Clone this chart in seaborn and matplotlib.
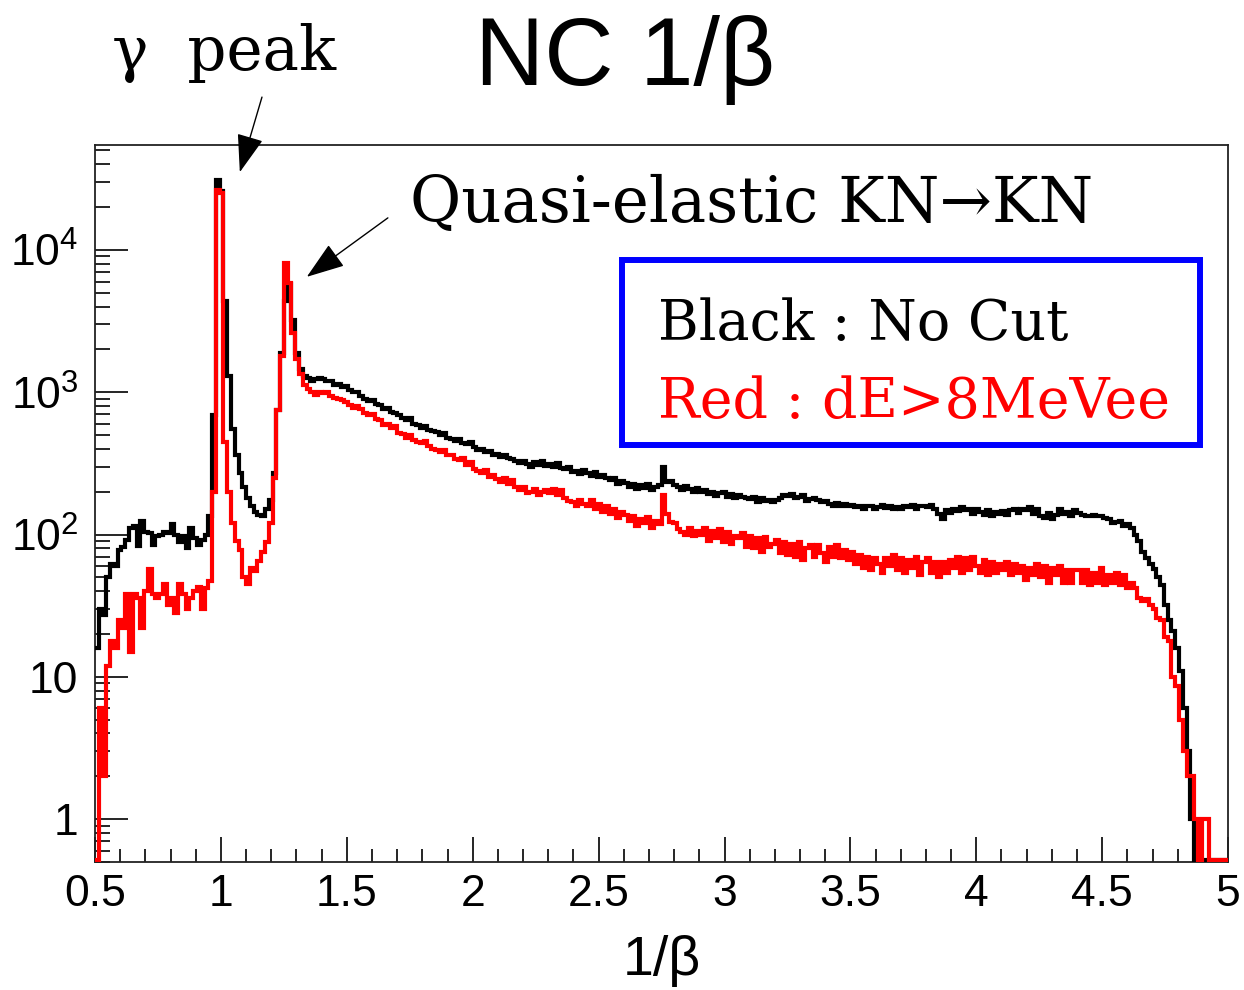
import numpy as np
import pandas as pd
import matplotlib
matplotlib.use("Agg")
import matplotlib.pyplot as plt
import seaborn as sns
from matplotlib.ticker import (FixedLocator, FixedFormatter, MultipleLocator,
                               LogLocator, NullFormatter)
from matplotlib.patches import Rectangle

# ---- histogram binning: 300 bins of width 0.015 over 1/beta in [0.5, 5] ----
bin_lo, bin_hi, n_bins = 0.5, 5.0, 300

# counts per bin, no cut (black)
no_cut = [
    16, 30, 27, 50, 62, 60, 78, 82, 92, 112,
    115, 83, 125, 105, 102, 85, 98, 100, 104, 103,
    118, 100, 88, 97, 80, 112, 95, 85, 92, 100,
    135, 690, 31000, 26000, 4400, 1300, 550, 360, 270, 215,
    180, 158, 145, 137, 134, 150, 175, 270, 750, 1900,
    4400, 5800, 3200, 1900, 1450, 1300, 1250, 1200, 1230, 1250,
    1240, 1205, 1190, 1120, 1150, 1080, 1100, 1030, 1010, 1000,
    940, 900, 870, 880, 830, 810, 760, 770, 730, 720,
    690, 655, 640, 660, 600, 585, 560, 575, 540, 530,
    525, 500, 515, 480, 470, 455, 470, 440, 430, 445,
    410, 395, 400, 380, 385, 365, 370, 350, 360, 345,
    340, 330, 318, 330, 312, 300, 325, 310, 330, 305,
    315, 300, 318, 295, 290, 300, 275, 280, 265, 282,
    270, 258, 275, 255, 262, 248, 240, 250, 228, 238,
    230, 215, 225, 208, 222, 212, 228, 205, 215, 222,
    300, 235, 238, 222, 215, 205, 218, 210, 200, 212,
    198, 205, 192, 200, 188, 195, 200, 185, 192, 182,
    190, 185, 180, 178, 185, 170, 180, 172, 176, 168,
    175, 182, 190, 186, 194, 180, 184, 190, 172, 178,
    182, 175, 170, 172, 165, 160, 166, 158, 164, 160,
    162, 155, 160, 152, 158, 160, 150, 156, 162, 154,
    158, 150, 156, 152, 160, 155, 162, 150, 158, 160,
    155, 162, 150, 140, 128, 148, 142, 152, 146, 155,
    148, 152, 140, 150, 145, 138, 148, 135, 145, 140,
    146, 138, 148, 150, 142, 152, 148, 155, 140, 150,
    135, 130, 142, 128, 138, 150, 140, 145, 135, 148,
    142, 138, 136, 135, 137, 134, 136, 130, 128, 120,
    122, 125, 115, 118, 112, 100, 90, 76, 68, 62,
    57, 50, 44, 32, 25, 21, 16, 11, 6, 3,
    1, 0, 0, 0, 0, 0, 0, 0, 0, 0,
]

# counts per bin, dE > 8 MeVee (red)
de_cut = [
    0, 6, 2, 12, 18, 16, 25, 22, 38, 15,
    38, 36, 22, 40, 57, 38, 36, 38, 45, 32,
    36, 28, 45, 38, 30, 36, 40, 43, 30, 42,
    47, 200, 26500, 25000, 450, 200, 120, 90, 78, 50,
    45, 58, 55, 65, 75, 88, 120, 250, 750, 1800,
    8100, 5900, 2600, 1700, 1350, 1120, 1050, 1000, 960, 1010,
    990, 1000, 940, 910, 900, 880, 850, 820, 780, 800,
    760, 720, 690, 700, 650, 640, 590, 600, 560, 575,
    520, 505, 480, 500, 465, 450, 440, 455, 420, 400,
    395, 380, 390, 360, 365, 340, 335, 345, 310, 325,
    290, 280, 270, 285, 255, 262, 245, 235, 250, 225,
    240, 215, 205, 215, 195, 200, 210, 190, 200, 205,
    195, 210, 190, 205, 180, 172, 170, 160, 175, 165,
    160, 175, 150, 165, 145, 160, 140, 150, 130, 145,
    138, 125, 135, 115, 128, 120, 132, 112, 125, 118,
    190, 140, 122, 120, 110, 105, 100, 112, 98, 106,
    100, 112, 90, 106, 94, 110, 88, 104, 86, 98,
    94, 102, 82, 98, 80, 94, 76, 96, 82, 86,
    92, 74, 88, 72, 86, 70, 88, 66, 80, 84,
    70, 84, 74, 64, 82, 70, 84, 68, 78, 66,
    76, 62, 72, 58, 70, 56, 68, 62, 54, 68,
    60, 72, 56, 68, 54, 66, 58, 70, 52, 64,
    68, 54, 64, 50, 64, 54, 66, 58, 70, 54,
    68, 56, 70, 60, 54, 66, 52, 64, 54, 62,
    56, 64, 52, 62, 54, 60, 48, 58, 52, 62,
    50, 60, 46, 58, 52, 60, 46, 56, 46, 56,
    56, 46, 56, 44, 54, 46, 58, 44, 52, 46,
    54, 44, 52, 42, 46, 42, 36, 34, 35, 32,
    30, 26, 25, 19, 18, 10, 8.6, 5, 3, 2,
    2, 1, 0, 1, 1, 0, 0, 0, 0, 0,
]

x_tick_values = [0.5, 1.0, 1.5, 2.0, 2.5, 3.0, 3.5, 4.0, 4.5, 5.0]
x_tick_labels = ["0.5", "1", "1.5", "2", "2.5", "3", "3.5", "4", "4.5", "5"]
y_tick_values = [1, 10, 100, 1000, 10000]
y_tick_labels = ["1", "10", r"$10^{2}$", r"$10^{3}$", r"$10^{4}$"]

title_text = "NC 1/β"
x_label_text = "1/β"
legend_texts = ["Black : No Cut", "Red : dE>8MeVee"]
gamma_text = "γ  peak"
qe_text = "Quasi-elastic KN→KN"

# ---- derived arrays ----
edges = np.linspace(bin_lo, bin_hi, n_bins + 1)
centers = 0.5 * (edges[:-1] + edges[1:])
y_min, y_top = 0.5, 5.46e4
empty_level = 0.52  # empty bins sit on the bottom edge of the frame

sns.set_style("white")
plt.rcParams["font.family"] = ["Liberation Sans", "DejaVu Sans"]
plt.rcParams["mathtext.fontset"] = "custom"
plt.rcParams["mathtext.rm"] = "Liberation Sans"
plt.rcParams["mathtext.it"] = "Liberation Sans:italic"
plt.rcParams["mathtext.bf"] = "Liberation Sans:bold"
for key in ("text.color", "axes.labelcolor", "xtick.color", "ytick.color"):
    plt.rcParams[key] = "black"

fig = plt.figure(figsize=(12.44, 9.9), dpi=100)
fig.patch.set_facecolor("white")
ax = fig.add_axes([0.0764, 0.1293, 0.9108, 0.7242])
ax.set_yscale("log")

for counts, colour, z in ((no_cut, "black", 3), (de_cut, "#ff0000", 4)):
    frame = pd.DataFrame({
        "inv_beta": centers,
        "count": np.maximum(np.asarray(counts, float), empty_level),
    })
    sns.histplot(data=frame, x="inv_beta", weights="count", bins=list(edges),
                 element="step", fill=False, color=colour, linewidth=3.0,
                 ax=ax, zorder=z)
for line in ax.lines:
    line.set_linewidth(3.0)
    line.set_solid_joinstyle("miter")

ax.set_xlim(bin_lo, bin_hi)
ax.set_ylim(y_min, y_top)
ax.set_ylabel("")

ax.xaxis.set_major_locator(FixedLocator(x_tick_values))
ax.xaxis.set_major_formatter(FixedFormatter(x_tick_labels))
ax.xaxis.set_minor_locator(MultipleLocator(0.1))
ax.yaxis.set_major_locator(FixedLocator(y_tick_values))
ax.yaxis.set_major_formatter(FixedFormatter(y_tick_labels))
ax.yaxis.set_minor_locator(LogLocator(base=10, subs=np.arange(2, 10) * 1.0, numticks=30))
ax.yaxis.set_minor_formatter(NullFormatter())

ax.tick_params(axis="x", which="major", direction="in", length=18, width=1.2,
               labelsize=32, pad=9, top=False, bottom=True, colors="black")
ax.tick_params(axis="x", which="minor", direction="in", length=9.4, width=1.2,
               top=False, bottom=True, colors="black")
ax.tick_params(axis="y", which="major", direction="in", length=24, width=1.2,
               labelsize=32, pad=12, right=False, left=True, colors="black")
ax.tick_params(axis="y", which="minor", direction="in", length=11, width=1.2,
               right=False, left=True, colors="black")
for sp in ax.spines.values():
    sp.set_linewidth(1.3)
    sp.set_color("#222222")

ax.set_xlabel(x_label_text, fontsize=40, labelpad=14, color="black")

# title and annotations
fig.text(0.5024, 0.9141, title_text, fontsize=69, ha="center", va="baseline",
         color="black", family=["Liberation Sans", "DejaVu Sans"])
fig.text(0.090, 0.9293, gamma_text, fontsize=44, ha="left", va="baseline",
         color="black", family=["DejaVu Serif"])
fig.text(0.3296, 0.7758, qe_text, fontsize=45, ha="left", va="baseline",
         color="black", family=["DejaVu Serif"])

arrow_style = dict(arrowstyle="-|>,head_length=1.2,head_width=0.42",
                   mutation_scale=20, lw=1.0, color="black",
                   shrinkA=0, shrinkB=0)
ax.annotate("", xy=(1.075, 3.52e4), xytext=(1.163, 1.186e5),
            arrowprops=arrow_style, annotation_clip=False)
ax.annotate("", xy=(1.341, 6.47e3), xytext=(1.663, 1.68e4),
            arrowprops=arrow_style, annotation_clip=False)

# legend box
ax.add_patch(Rectangle((0.4651, 0.5816), 0.5101, 0.2580, transform=ax.transAxes,
                       facecolor="white", edgecolor="#0000ff", linewidth=4.3,
                       zorder=6))
ax.text(0.4969, 0.7280, legend_texts[0], transform=ax.transAxes, fontsize=40,
        color="black", ha="left", va="baseline", family=["DejaVu Serif"], zorder=7)
ax.text(0.4969, 0.6192, legend_texts[1], transform=ax.transAxes, fontsize=40,
        color="#ff0000", ha="left", va="baseline", family=["DejaVu Serif"], zorder=7)

fig.savefig("out.png", dpi=100, facecolor="white")
